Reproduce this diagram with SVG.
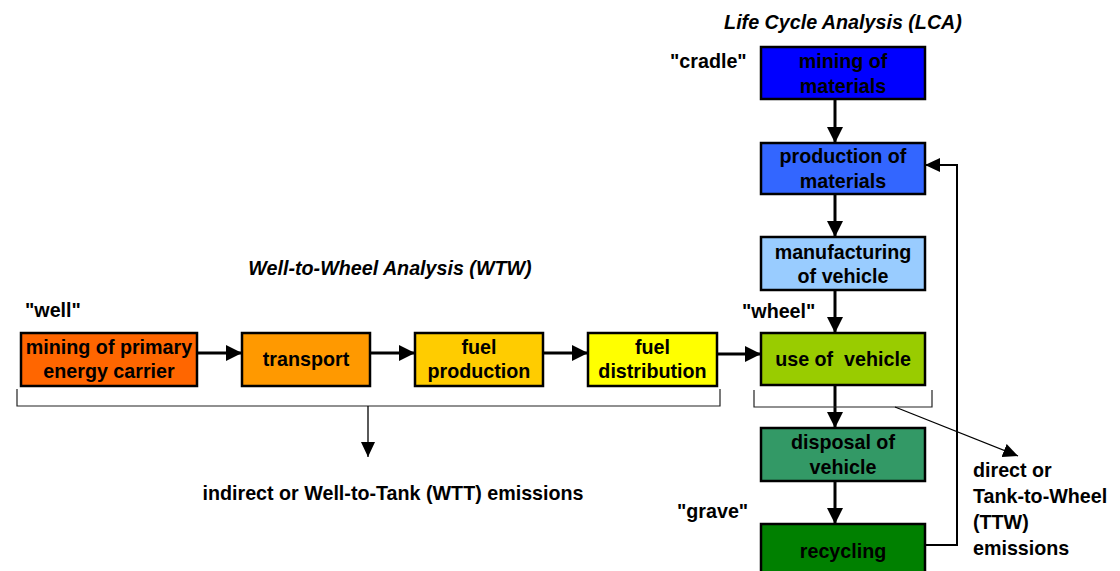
<svg xmlns="http://www.w3.org/2000/svg" width="1120" height="571" viewBox="0 0 1120 571">
<defs>
<style>
text{font-family:"Liberation Sans",Arial,sans-serif;font-weight:bold;font-size:19.7px;fill:#000}
.c{text-anchor:middle}
.it{font-style:italic}
.box{stroke:#000;stroke-width:2.5}
.thick{stroke:#000;stroke-width:3;fill:none}
.thin{stroke:#000;stroke-width:1.3;fill:none}
.br{stroke:#222;stroke-width:1.2;fill:none}
</style>
<marker id="ah" markerUnits="userSpaceOnUse" markerWidth="16" markerHeight="16" refX="16" refY="8" orient="auto"><path d="M0,0 L16,8 L0,16 z" fill="#000"/></marker>
<marker id="as" markerUnits="userSpaceOnUse" markerWidth="15" markerHeight="14" refX="15" refY="7" orient="auto"><path d="M0,0 L15,7 L0,14 z" fill="#000"/></marker>
</defs>
<rect width="1120" height="571" fill="#fff"/>

<g id="titles">
<text class="c it" x="843" y="29">Life Cycle Analysis (LCA)</text>
<text class="c it" x="390" y="275">Well-to-Wheel Analysis (WTW)</text>
<text x="670" y="68">"cradle"</text>
<text x="25" y="317">"well"</text>
<text x="742" y="318">"wheel"</text>
<text x="677" y="518">"grave"</text>
</g>

<g id="connectors">
<line class="thick" x1="197" y1="353" x2="242" y2="353" marker-end="url(#ah)"/>
<line class="thick" x1="370" y1="353" x2="415" y2="353" marker-end="url(#ah)"/>
<line class="thick" x1="543" y1="353" x2="588" y2="353" marker-end="url(#ah)"/>
<line class="thick" x1="717" y1="354" x2="761" y2="354" marker-end="url(#ah)"/>
<line class="thick" x1="835" y1="99" x2="835" y2="143" marker-end="url(#ah)"/>
<line class="thick" x1="835" y1="194" x2="835" y2="237" marker-end="url(#ah)"/>
<line class="thick" x1="835" y1="290" x2="835" y2="333" marker-end="url(#ah)"/>
<line class="thick" x1="835" y1="385" x2="835" y2="428" marker-end="url(#ah)"/>
<line class="thick" x1="835" y1="481" x2="835" y2="524" marker-end="url(#ah)"/>
<polyline points="925,545 957,545 957,165 925,165" fill="none" stroke="#000" stroke-width="2" marker-end="url(#as)"/>
<polyline class="br" points="17,389 17,406 720,406 720,389"/>
<line class="thin" x1="368" y1="406" x2="368" y2="457" marker-end="url(#as)"/>
<polyline class="br" points="754,390 754,407 932,407 932,390"/>
<line class="thin" x1="895" y1="407" x2="1018" y2="456" marker-end="url(#as)"/>
</g>

<g id="n-mining-primary"><rect class="box" x="21" y="333" width="176" height="53" fill="#FF6600"/><text class="c" x="109" y="354">mining of primary</text><text class="c" x="109" y="378">energy carrier</text></g>
<g id="n-transport"><rect class="box" x="242" y="333" width="128" height="53" fill="#FF9900"/><text class="c" x="306" y="366">transport</text></g>
<g id="n-fuel-production"><rect class="box" x="415" y="333" width="128" height="53" fill="#FFCC00"/><text class="c" x="479" y="354">fuel</text><text class="c" x="479" y="378">production</text></g>
<g id="n-fuel-distribution"><rect class="box" x="588" y="333" width="129" height="53" fill="#FFFF00"/><text class="c" x="652.5" y="354">fuel</text><text class="c" x="652.5" y="378">distribution</text></g>

<g id="n-mining-materials"><rect class="box" x="761" y="47" width="164" height="52" fill="#0000FF"/><text class="c" x="843" y="68">mining of</text><text class="c" x="843" y="93">materials</text></g>
<g id="n-production-materials"><rect class="box" x="761" y="143" width="164" height="51" fill="#3366FF"/><text class="c" x="843" y="163">production of</text><text class="c" x="843" y="188">materials</text></g>
<g id="n-manufacturing"><rect class="box" x="761" y="237" width="164" height="53" fill="#99CCFF"/><text class="c" x="843" y="259">manufacturing</text><text class="c" x="843" y="283">of vehicle</text></g>
<g id="n-use"><rect class="box" x="761" y="333" width="164" height="52" fill="#99CC00"/><text class="c" x="843" y="366" xml:space="preserve">use of  vehicle</text></g>
<g id="n-disposal"><rect class="box" x="761" y="428" width="164" height="53" fill="#339966"/><text class="c" x="843" y="449">disposal of</text><text class="c" x="843" y="474">vehicle</text></g>
<g id="n-recycling"><rect class="box" x="761" y="524" width="164" height="56" fill="#008000"/><text class="c" x="843" y="558">recycling</text></g>

<g id="emissions">
<text class="c" x="393" y="500">indirect or Well-to-Tank (WTT) emissions</text>
<text x="973" y="477">direct or</text>
<text x="973" y="503">Tank-to-Wheel</text>
<text x="973" y="529">(TTW)</text>
<text x="973" y="555">emissions</text>
</g>
</svg>
